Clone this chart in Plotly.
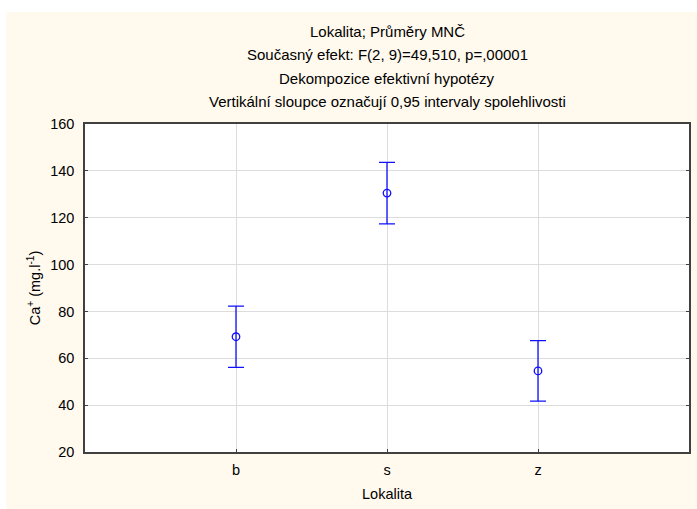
import plotly.graph_objects as go

categories = ["b", "s", "z"]
means = [69.2, 130.5, 54.6]
ci_half = [13.1, 13.1, 12.9]
y_ticks = [20, 40, 60, 80, 100, 120, 140, 160]
title_lines = [
    "Lokalita; Průměry MNČ",
    "Současný efekt: F(2, 9)=49,510, p=,00001",
    "Dekompozice efektivní hypotézy",
    "Vertikální sloupce označují 0,95 intervaly spolehlivosti",
]

W, H = 697, 509
L, R, T, B = 85, 6, 124, 57
pw, ph = W - L - R, H - T - B

blue = "#1010FF"
fig = go.Figure()
fig.add_trace(go.Scatter(
    x=[0, 1, 2], y=means, mode="markers",
    marker=dict(symbol="circle-open", size=7.5, color=blue, line=dict(width=1.3, color=blue)),
    error_y=dict(type="data", array=ci_half, visible=True, color=blue, thickness=1.3, width=8),
    showlegend=False, hoverinfo="skip",
))

font = dict(family="Liberation Sans, Arial, sans-serif", size=14.5, color="#000000")
tfont = dict(family="Liberation Sans, Arial, sans-serif", size=15, color="#000000")
ann = []
for i, t in enumerate(title_lines):
    ypix = 32 + i * 23
    ann.append(dict(text=t, xref="paper", yref="paper", x=0.5, y=(H - B - ypix) / ph,
                    showarrow=False, xanchor="center", yanchor="middle", font=tfont))

cream = "#FFF9EE"
shapes = [
    dict(type="rect", xref="paper", yref="paper", x0=-L / pw - 0.01, x1=(6 - L) / pw,
         y0=-B / ph - 0.01, y1=(H - B) / ph + 0.01, fillcolor="white", line_width=0, layer="below"),
    dict(type="rect", xref="paper", yref="paper", x0=-L / pw - 0.01, x1=1 + R / pw + 0.01,
         y0=(H - B - 12) / ph, y1=(H - B) / ph + 0.01, fillcolor="white", line_width=0, layer="below"),
]

fig.update_layout(
    width=W, height=H, margin=dict(l=L, r=R, t=T, b=B),
    paper_bgcolor=cream, plot_bgcolor="white",
    font=font, annotations=ann, shapes=shapes,
    xaxis=dict(range=[-1, 3], tickvals=[0, 1, 2], ticktext=categories,
               showgrid=True, gridcolor="#DCDCDC", gridwidth=1, zeroline=False,
               showline=True, mirror=True, linecolor="#404040", linewidth=1.5,
               ticks="inside", ticklen=3, tickcolor="#404040", ticklabelstandoff=4,
               title=dict(text="Lokalita", font=font, standoff=12), tickfont=font),
    yaxis=dict(range=[20, 160], tickvals=y_ticks,
               showgrid=True, gridcolor="#DCDCDC", gridwidth=1, zeroline=False,
               showline=True, mirror="ticks", linecolor="#404040", linewidth=1.5,
               ticks="inside", ticklen=3, tickcolor="#404040", ticklabelstandoff=6,
               title=dict(text="Ca<sup>+</sup> (mg.l<sup>-1</sup>)", font=font, standoff=6), tickfont=font),
)

fig.write_html("out.html", config={"displayModeBar": False},
               post_script="document.body.style.margin='0';document.body.style.overflow='hidden';"
                           "document.body.style.background='" + cream + "';"
                           "document.documentElement.style.background='" + cream + "';")
